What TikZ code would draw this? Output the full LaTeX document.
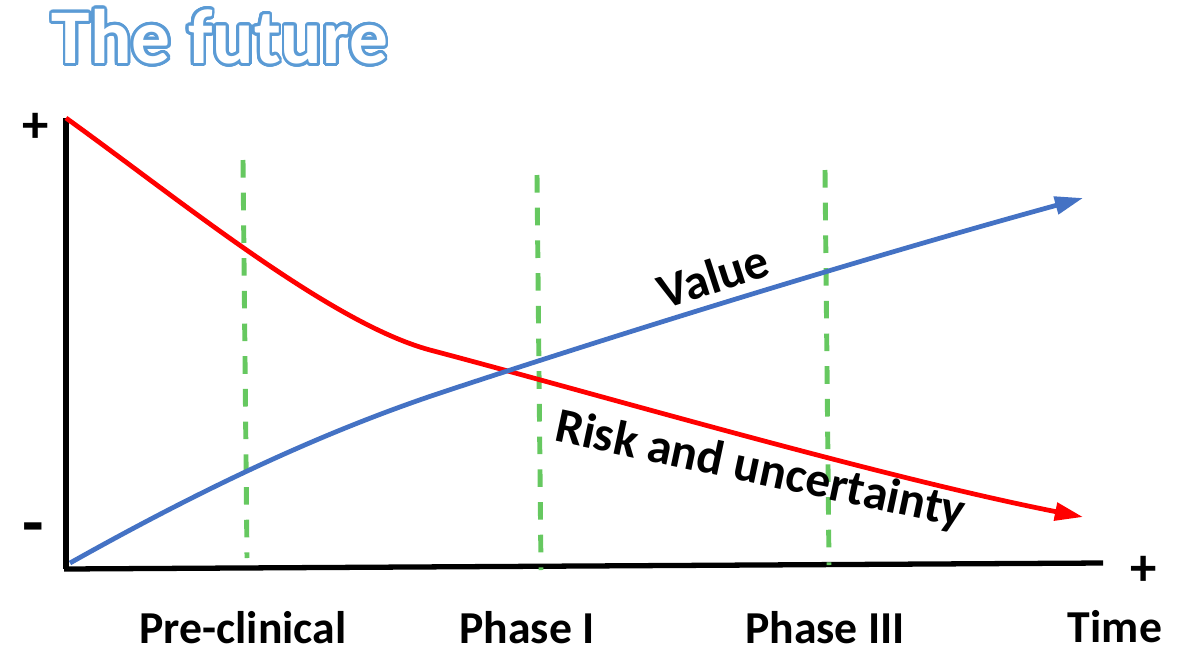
\documentclass[tikz,border=0pt]{standalone}
\usepackage{fontspec}
\setmainfont{Carlito}
\usepackage{contour}
\usetikzlibrary{arrows.meta}
\definecolor{valueblue}{HTML}{4472C4}
\definecolor{riskred}{HTML}{FF0000}
\definecolor{phasegreen}{HTML}{66C860}
\definecolor{titleblue}{HTML}{5B9BD5}
\contourlength{0.8pt}
\contournumber{32}
\tikzset{
  ax/.style={draw=black, line width=1.5pt},
  curve/.style={line width=1.35pt, -{Triangle[length=8pt,width=5pt]}},
  phase/.style={draw=phasegreen, line width=1.4pt, dash pattern=on 5pt off 4.3pt},
  lbl/.style={font=\fontsize{13}{15}\selectfont\bfseries, inner sep=0pt},
  tag/.style={font=\fontsize{14}{16}\selectfont\bfseries, inner sep=0pt},
  sgn/.style={font=\fontsize{15}{17}\selectfont\bfseries, inner sep=0pt}
}

\begin{document}
\begin{tikzpicture}[x=0.01cm, y=-0.01cm]
\useasboundingbox (0,0) rectangle (1191,651);
\node[font=\fontsize{22}{26}\selectfont\bfseries, inner sep=0pt] (title) at (220,38)
  {\contour{titleblue}{\textcolor{white}{The future}}};

% axes
\coordinate (top) at (66,118);
\coordinate (origin) at (66,569);
\coordinate (right) at (1103,563);
\draw[ax] (top) -- (origin);
\draw[ax] (64,569) -- (right);
\node[sgn] (plusy) at (36,128) {+};
\node[sgn, font=\fontsize{20}{22}\selectfont\bfseries] (minusy) at (33,535) {-};
\node[sgn] (plusx) at (1144,571) {+};
\node[lbl] (time) at (1115,627) {Time};

% phases
\draw[phase] (243,160) -- (247,558);
\draw[phase] (537,175) -- (541,570);
\draw[phase] (825,170) -- (829,565);
\node[lbl] (pre) at (243,628) {Pre-clinical};
\node[lbl] (ph1) at (527,628) {Phase I};
\node[lbl] (ph3) at (825,628) {Phase III};

% risk and value
\draw[curve, riskred] (66,118) .. controls (180,200) and (330,323) .. (430,350)
  .. controls (600,395) and (880,477) .. (1083,517);
\draw[curve, valueblue] (70,563) .. controls (200,490) and (320,433) .. (440,393)
  .. controls (600,340) and (850,262) .. (1083,198);
\node[tag, rotate=18] (value) at (713,276) {Value};
\node[tag, rotate=-12] (risk) at (760,471) {Risk and uncertainty};
\end{tikzpicture}
\end{document}
